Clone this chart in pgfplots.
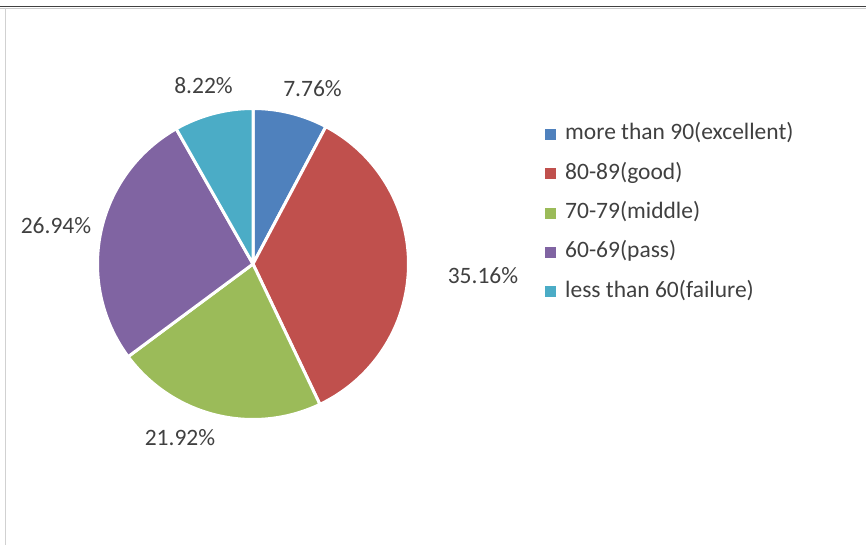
\documentclass[border=0pt]{standalone}
\usepackage{pgfplots}
\pgfplotsset{compat=1.18}
\usepackage{pgfplotstable}
\usepackage{fontspec}
\setmainfont{Carlito}
\definecolor{cA}{HTML}{4F81BD}
\definecolor{cB}{HTML}{C0504D}
\definecolor{cC}{HTML}{9BBB59}
\definecolor{cD}{HTML}{8064A2}
\definecolor{cE}{HTML}{4BACC6}
\definecolor{txt}{HTML}{404040}
\pgfplotstableread{
idx pct
0 7.76
1 35.16
2 21.92
3 26.94
4 8.22
}\piedata
\begin{document}
\begin{tikzpicture}
\pgfplotstablegetelem{0}{pct}\of\piedata \let\pA\pgfplotsretval
\pgfplotstablegetelem{1}{pct}\of\piedata \let\pB\pgfplotsretval
\pgfplotstablegetelem{2}{pct}\of\piedata \let\pC\pgfplotsretval
\pgfplotstablegetelem{3}{pct}\of\piedata \let\pD\pgfplotsretval
\pgfplotstablegetelem{4}{pct}\of\piedata \let\pE\pgfplotsretval
\pgfmathsetmacro\aA{0}
\pgfmathsetmacro\aB{\aA+\pA*3.6}
\pgfmathsetmacro\aC{\aB+\pB*3.6}
\pgfmathsetmacro\aD{\aC+\pC*3.6}
\pgfmathsetmacro\aE{\aD+\pD*3.6}
\pgfmathsetmacro\aF{\aE+\pE*3.6}
\def\cx{253}\def\cy{264}\def\rr{155.5}
\begin{axis}[
  scale only axis, width=866bp, height=545bp,
  xmin=0, xmax=866, ymin=0, ymax=545, y dir=reverse,
  hide axis, clip=false,
  legend image code/.code={\fill[#1] (0bp,-7bp) rectangle (14bp,7bp);},
  legend style={draw=none, fill=none, at={(axis cs:539,213)}, anchor=west,
    font=\fontsize{23.5bp}{28bp}\selectfont, text=txt,
    nodes={inner sep=0pt, text height=16bp, text depth=5bp},
    row sep=18.4bp, column sep=6bp},
  legend cell align=left,
]
\addplot[fill=cA, draw=white, line width=3bp, domain=\aA:\aB, samples=40] ({\cx+\rr*sin(x)},{\cy-\rr*cos(x)}) -- (axis cs:\cx,\cy) -- cycle;
\addplot[fill=cB, draw=white, line width=3bp, domain=\aB:\aC, samples=100] ({\cx+\rr*sin(x)},{\cy-\rr*cos(x)}) -- (axis cs:\cx,\cy) -- cycle;
\addplot[fill=cC, draw=white, line width=3bp, domain=\aC:\aD, samples=80] ({\cx+\rr*sin(x)},{\cy-\rr*cos(x)}) -- (axis cs:\cx,\cy) -- cycle;
\addplot[fill=cD, draw=white, line width=3bp, domain=\aD:\aE, samples=80] ({\cx+\rr*sin(x)},{\cy-\rr*cos(x)}) -- (axis cs:\cx,\cy) -- cycle;
\addplot[fill=cE, draw=white, line width=3bp, domain=\aE:\aF, samples=40] ({\cx+\rr*sin(x)},{\cy-\rr*cos(x)}) -- (axis cs:\cx,\cy) -- cycle;
\legend{more than 90(excellent),80-89(good),70-79(middle),60-69(pass),less than 60(failure)}
\begin{scope}[every node/.style={text=txt, font=\fontsize{23.5bp}{28bp}\selectfont, inner sep=0pt}]
\node at (axis cs:312.5,89) {7.76\%};
\node at (axis cs:483,276) {35.16\%};
\node at (axis cs:180,438) {21.92\%};
\node at (axis cs:56,226) {26.94\%};
\node at (axis cs:203.5,86) {8.22\%};
\end{scope}
\draw[color=black!75, line width=1.2bp] (axis cs:0,6.6) -- (axis cs:866,6.6);
\draw[color=black!20, line width=1.5bp] (axis cs:0,8.3) -- (axis cs:866,8.3);
\draw[color=black!18, line width=1.5bp] (axis cs:5.5,8) -- (axis cs:5.5,545);
\end{axis}
\pgfresetboundingbox
\path (0,0) rectangle (866bp,545bp);
\end{tikzpicture}
\end{document}
